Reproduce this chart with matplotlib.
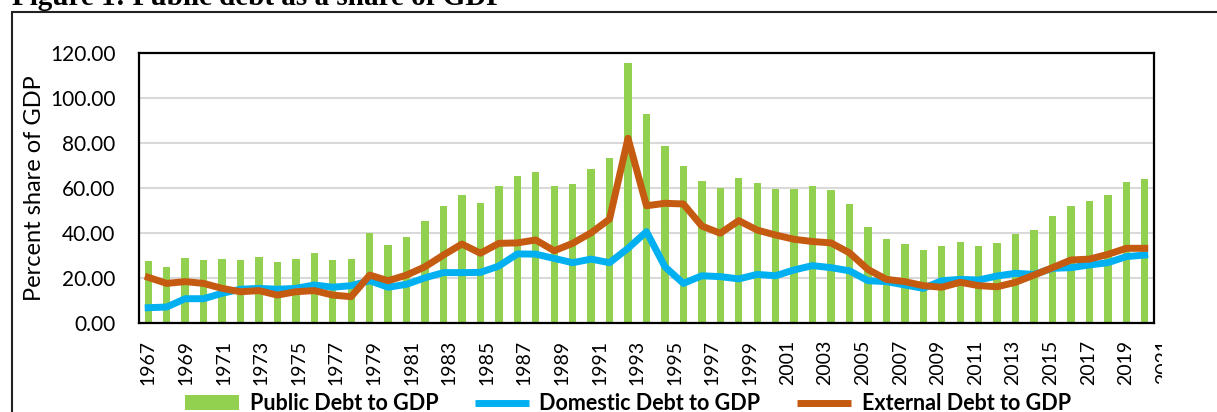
import numpy as np
import matplotlib
matplotlib.use("Agg")
import matplotlib.pyplot as plt
from matplotlib.patches import Rectangle, Patch
from matplotlib.lines import Line2D
from matplotlib.transforms import Bbox, TransformedBbox

# ______________________________________________________________________________
# Data (% of GDP)

years = list(range(1967, 2022))

public = [27.6, 24.9, 28.9, 28.0, 28.4, 28.0, 29.3, 27.1, 28.4, 31.1,
          28.0, 28.4, 40.0, 34.7, 38.2, 45.3, 52.0, 56.9, 53.3, 60.9,
          65.3, 67.1, 60.9, 61.8, 68.4, 73.3, 115.6, 92.9, 78.7, 69.8,
          63.1, 60.0, 64.4, 62.2, 59.6, 59.6, 60.9, 59.1, 52.9, 42.7,
          37.3, 35.1, 32.4, 34.2, 36.0, 34.2, 35.6, 39.6, 41.3, 47.6,
          52.0, 54.2, 56.9, 62.7, 64.0]

domestic = [6.8, 7.1, 10.8, 10.8, 13.2, 15.0, 15.4, 15.0, 15.4, 16.9,
            15.9, 16.6, 18.8, 15.9, 17.2, 20.1, 22.4, 22.4, 22.5, 25.3,
            30.7, 30.6, 28.7, 26.8, 28.4, 26.8, 33.2, 40.6, 25.0, 17.6,
            21.0, 20.6, 19.6, 21.6, 21.0, 23.6, 25.5, 24.6, 23.2, 18.8,
            18.4, 16.9, 15.4, 18.8, 19.4, 19.1, 20.9, 22.1, 21.6, 24.3,
            24.6, 25.8, 26.8, 29.5, 30.2]

external = [20.3, 17.6, 18.4, 17.6, 15.4, 13.9, 14.4, 12.4, 13.9, 14.4,
            12.4, 11.7, 21.3, 18.8, 21.3, 25.0, 30.2, 35.1, 31.0, 35.4,
            35.6, 36.9, 32.1, 35.4, 40.1, 46.2, 82.1, 52.1, 53.2, 52.9,
            43.1, 39.9, 45.5, 41.3, 39.1, 37.2, 36.2, 35.6, 31.2, 23.8,
            19.4, 18.4, 16.6, 15.9, 18.1, 16.6, 16.1, 18.1, 21.3, 24.6,
            28.0, 28.4, 30.5, 33.2, 33.2]

yticks = [0, 20, 40, 60, 80, 100, 120]
label_years = list(range(1967, 2022, 2))

c_public = "#92D050"
c_domestic = "#00B0F0"
c_external = "#C55A11"

# ______________________________________________________________________________
# RCParams

plt.rcParams['font.family'] = ['Lato', 'DejaVu Sans']
plt.rcParams['font.size'] = 15
plt.rcParams['figure.facecolor'] = 'w'

fig = plt.figure(figsize=(12.17, 4.12), dpi=100)
ax = fig.add_axes([0.1142, 0.2160, 0.8340, 0.6554])

x = np.arange(len(years))

ax.bar(x, public, width=0.4, color=c_public, zorder=2)
ax.plot(x, domestic, color=c_domestic, lw=5, solid_joinstyle='round', zorder=3)
ax.plot(x, external, color=c_external, lw=5, solid_joinstyle='round', zorder=4)

ax.set_xlim(-0.5, len(years) - 0.5)
ax.set_ylim(0, 120)
ax.set_yticks(yticks)
ax.set_yticklabels(["%.2f" % v for v in yticks])
ax.tick_params(axis='y', length=0, pad=17, labelsize=15)
ax.set_xticks([])
ax.grid(axis='y', color='#d9d9d9', lw=1.5, zorder=0)
ax.set_axisbelow(True)
for s in ax.spines.values():
    s.set_linewidth(1.6)
    s.set_color('black')
    s.set_zorder(5)

ax.set_ylabel("Percent share of GDP", fontsize=17)
ax.yaxis.set_label_coords(-0.093, 0.5)

# year labels on their own category scale
ax2 = ax.twiny()
ax2.set_xlim(-0.5, len(years) - 1.5)
ax2.xaxis.set_ticks_position('bottom')
ax2.set_xticks(range(0, len(label_years) * 2 - 2, 2))
ax2.set_xticklabels([str(y) for y in label_years[:-1]], rotation=90)
ax2.tick_params(axis='x', length=0, pad=12, labelsize=14)
for s in ax2.spines.values():
    s.set_visible(False)

# last year label, cut at the chart edge
t = fig.text(1163.5 / 1217, 1 - 339 / 412, str(label_years[-1]), rotation=90,
             ha='center', va='top', fontsize=14)
t.set_clip_box(TransformedBbox(Bbox.from_extents(0, 0, 1162 / 1217, 1), fig.transFigure))

# ______________________________________________________________________________
# Legend, frame and caption

handles = [Patch(facecolor=c_public, edgecolor='none'),
           Line2D([], [], color=c_domestic, lw=5, solid_capstyle='butt'),
           Line2D([], [], color=c_external, lw=5, solid_capstyle='butt')]
labels = ["Public Debt to GDP", "Domestic Debt to GDP", "External Debt to GDP"]
fig.legend(handles, labels, loc='center', bbox_to_anchor=(0.516, 0.020), ncol=3,
           frameon=False, handlelength=2.5, columnspacing=1.7, handletextpad=0.5,
           prop={'weight': 'bold', 'size': 15.5})

fig.patches.append(Rectangle((12 / 1217, -0.1), 1.2, 1.1 - 12 / 412,
                             transform=fig.transFigure, fill=False,
                             edgecolor='#222222', lw=1.5))

fig.text(12 / 1217, 1 - 5 / 412, "Figure 1: Public debt as a share of GDP",
         family='Liberation Serif', weight='bold', fontsize=21, va='baseline')

fig.savefig("out.png", dpi=100)
